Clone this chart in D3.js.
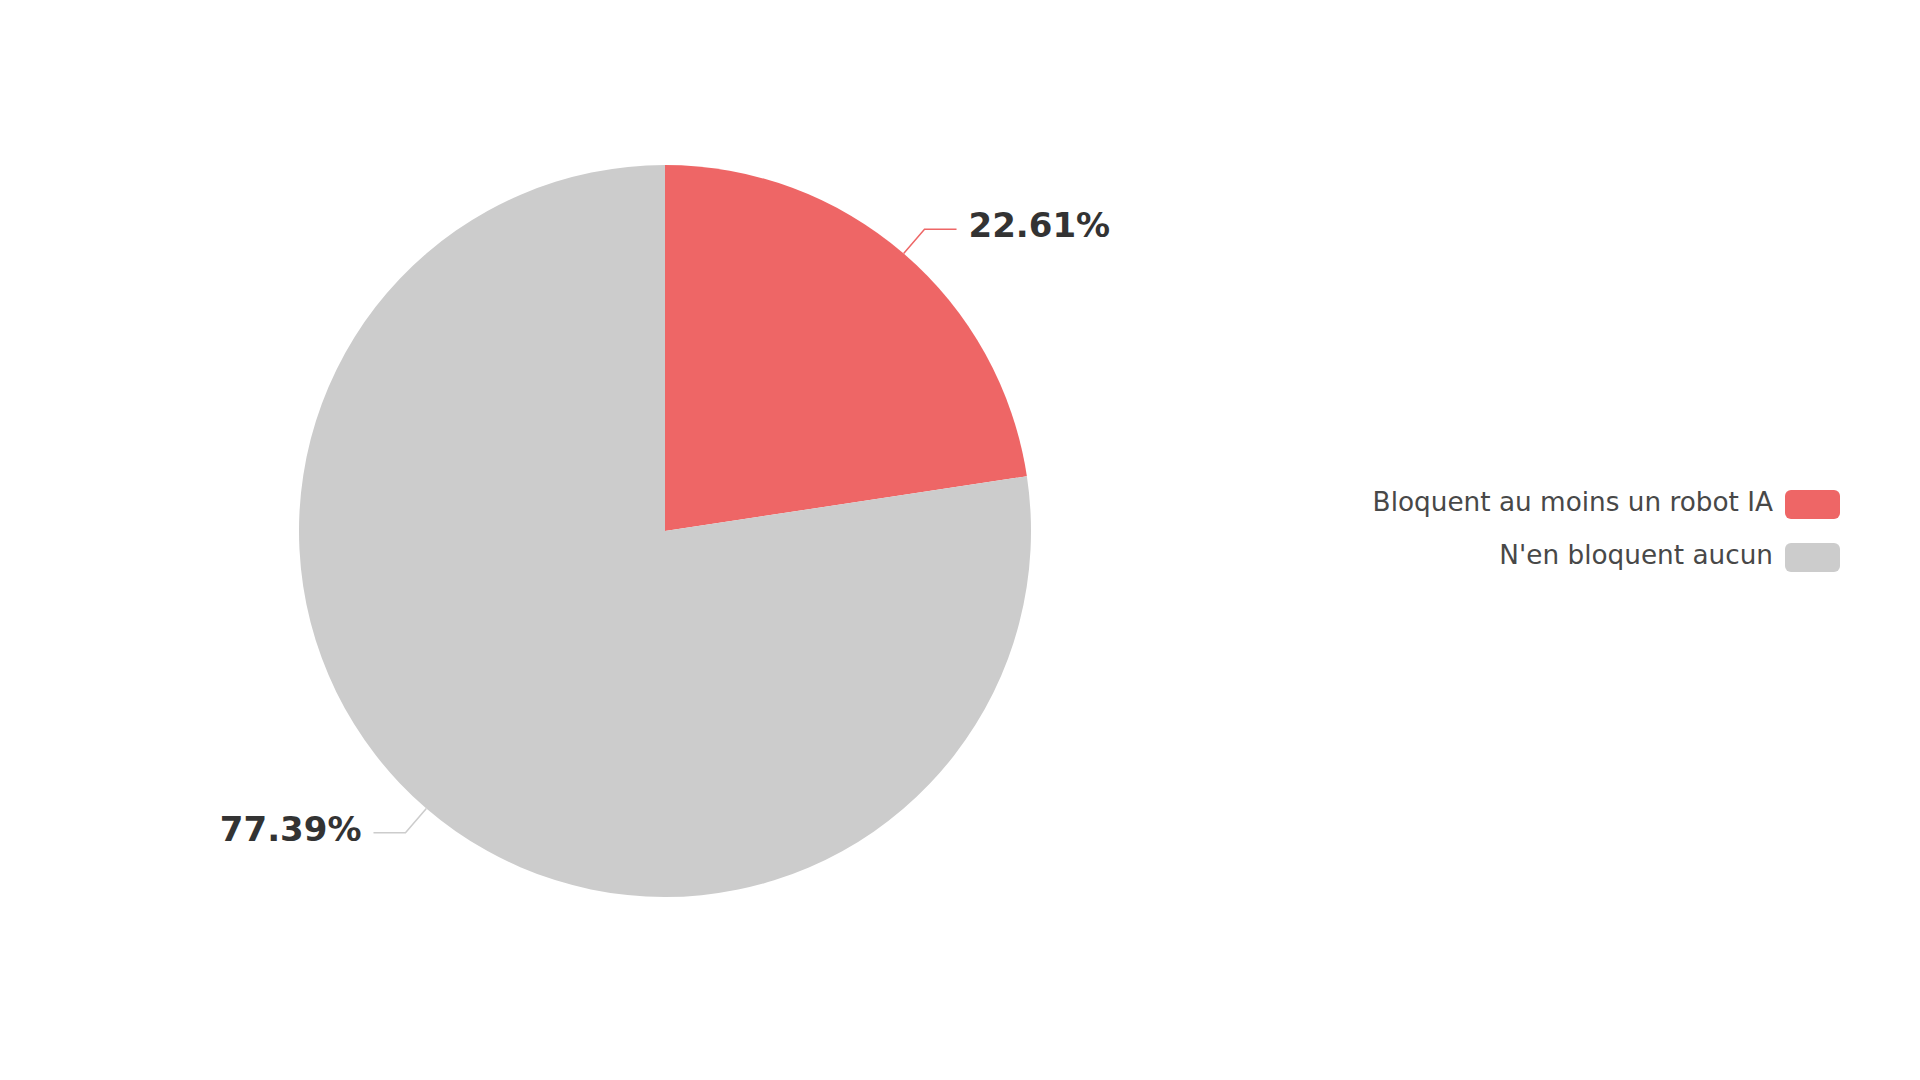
<!DOCTYPE html>
<html>
<head>
<meta charset="utf-8">
<script src="https://cdn.jsdelivr.net/npm/d3@7"></script>
<style>
  html, body { margin: 0; padding: 0; background: #fff; }
  svg { display: block; font-family: "DejaVu Sans", sans-serif; }
</style>
</head>
<body>
<div id="chart"></div>
<script>
const categories = ["Bloquent au moins un robot IA", "N'en bloquent aucun"];
const values = [22.61, 77.39];
const colors = ["#EE6666", "#CCCCCC"];

const width = 1920;
const height = 1080;
const cx = 665;
const cy = 531;
const radius = 366;
const leaderRadial = 32;
const leaderHorizontal = 32;
const labelGap = 12;

const data = categories.map((name, i) => ({ name, value: values[i], color: colors[i] }));

const svg = d3.select("#chart").append("svg")
  .attr("width", width)
  .attr("height", height);

const pie = d3.pie()
  .value(d => d.value)
  .sort(null);

const arc = d3.arc()
  .innerRadius(0)
  .outerRadius(radius);

const g = svg.append("g")
  .attr("transform", `translate(${cx},${cy})`);

const arcs = pie(data);

g.selectAll("path.slice")
  .data(arcs)
  .enter()
  .append("path")
  .attr("class", "slice")
  .attr("d", arc)
  .attr("fill", d => d.data.color);

// leader lines + labels
const labelPoints = arcs.map(d => {
  const a = (d.startAngle + d.endAngle) / 2;
  const sx = Math.sin(a), sy = -Math.cos(a);
  const right = sx >= 0;
  const p0 = [radius * sx, radius * sy];
  const p1 = [(radius + leaderRadial) * sx, (radius + leaderRadial) * sy];
  const p2 = [p1[0] + (right ? leaderHorizontal : -leaderHorizontal), p1[1]];
  return { d, right, pts: [p0, p1, p2] };
});

g.selectAll("path.leader")
  .data(labelPoints)
  .enter()
  .append("path")
  .attr("class", "leader")
  .attr("d", l => d3.line()(l.pts))
  .attr("fill", "none")
  .attr("stroke", l => l.d.data.color)
  .attr("stroke-width", 1.5);

g.selectAll("text.label")
  .data(labelPoints)
  .enter()
  .append("text")
  .attr("class", "label")
  .attr("x", l => l.pts[2][0] + (l.right ? labelGap : -labelGap))
  .attr("y", l => l.pts[2][1] + 8)
  .attr("text-anchor", l => l.right ? "start" : "end")
  .attr("font-size", 34)
  .attr("font-weight", "bold")
  .attr("fill", "#333")
  .text(l => l.d.data.value.toFixed(2) + "%");

// legend, right aligned
const legendRight = 1840;
const legendTop = 490;
const legendRow = 53;
const iconW = 55, iconH = 29;

const legend = svg.append("g").attr("class", "legend");

const items = legend.selectAll("g.item")
  .data(data)
  .enter()
  .append("g")
  .attr("class", "item")
  .attr("transform", (d, i) => `translate(0,${legendTop + i * legendRow})`);

items.append("rect")
  .attr("x", legendRight - iconW)
  .attr("y", 0)
  .attr("width", iconW)
  .attr("height", iconH)
  .attr("rx", 6)
  .attr("fill", d => d.color);

items.append("text")
  .attr("x", legendRight - iconW - 12)
  .attr("y", iconH / 2 - 3)
  .attr("dy", "0.36em")
  .attr("text-anchor", "end")
  .attr("font-size", 26.3)
  .attr("fill", "#484848")
  .text(d => d.name);
</script>
</body>
</html>
